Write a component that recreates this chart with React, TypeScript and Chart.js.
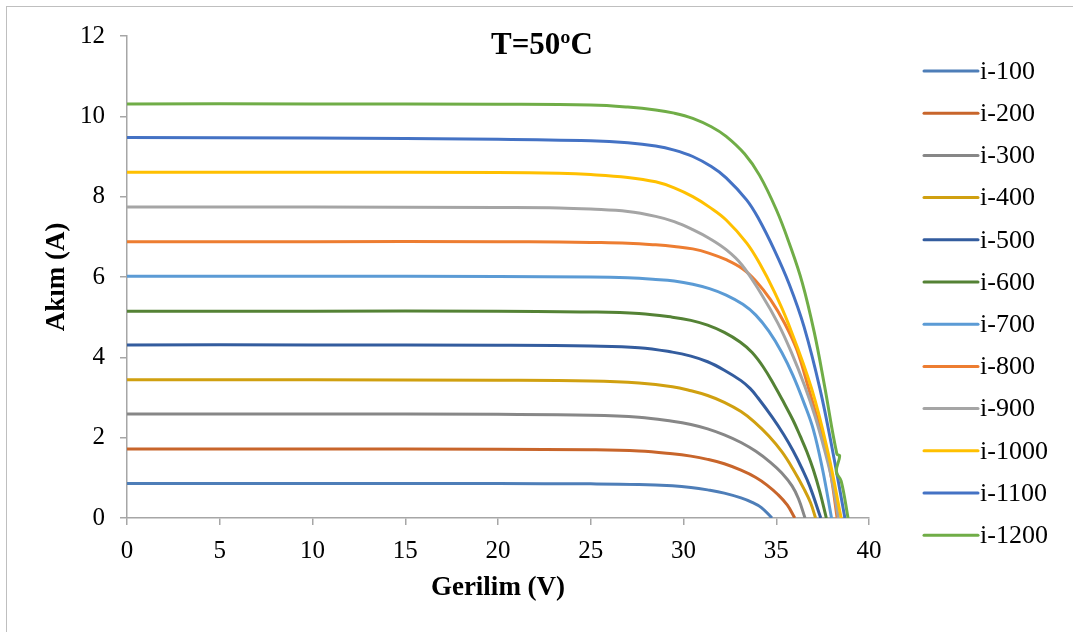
import { useEffect, useRef } from "react";
import { Chart, registerables } from "chart.js";

Chart.register(...registerables);

// ---- data (V, A) ----
const seriesLabels = ["i-100", "i-200", "i-300", "i-400", "i-500", "i-600", "i-700", "i-800", "i-900", "i-1000", "i-1100", "i-1200"];
const seriesColors = ["#4E7EB8", "#C8652B", "#878787", "#D0A010", "#335C9E", "#548235", "#5B9BD5", "#ED7D31", "#A5A5A5", "#FFC000", "#4472C4", "#70AD47"];

const i100: number[][] = [[0, 0.86], [10, 0.86], [20, 0.856], [25, 0.85], [27.6, 0.835], [29.4, 0.8], [30.4, 0.76], [31.3, 0.7], [32.2, 0.62], [33.1, 0.5], [33.7, 0.39], [34.2, 0.26], [34.77, 0]];
const i200: number[][] = [[0, 1.72], [10, 1.72], [20, 1.71], [25, 1.7], [27.6, 1.67], [29.4, 1.6], [30.4, 1.54], [31.3, 1.46], [32.2, 1.35], [33.1, 1.19], [33.9, 1.01], [34.5, 0.82], [35.1, 0.58], [35.6, 0.32], [36.0, 0]];
const i300: number[][] = [[0, 2.59], [10, 2.59], [20, 2.58], [25, 2.56], [27.6, 2.51], [29.4, 2.41], [30.4, 2.33], [31.3, 2.22], [32.2, 2.07], [33.1, 1.88], [33.9, 1.66], [34.7, 1.38], [35.3, 1.12], [35.85, 0.8], [36.2, 0.48], [36.55, 0]];
const i400: number[][] = [[0, 3.44], [10, 3.44], [20, 3.43], [25, 3.41], [27.6, 3.36], [29.4, 3.27], [30.4, 3.17], [31.3, 3.05], [32.2, 2.88], [33.1, 2.65], [33.8, 2.4], [34.6, 2.04], [35.3, 1.65], [35.9, 1.22], [36.5, 0.72], [36.85, 0.38], [37.12, 0]];
const i500: number[][] = [[0, 4.31], [10, 4.31], [20, 4.3], [25, 4.28], [27.6, 4.24], [29.4, 4.13], [30.4, 4.03], [31.3, 3.89], [32.2, 3.68], [33.1, 3.42], [33.6, 3.22], [34.0, 3.0], [34.8, 2.5], [35.4, 2.08], [35.9, 1.68], [36.4, 1.22], [36.8, 0.8], [37.4, 0]];
const i600: number[][] = [[0, 5.15], [10, 5.15], [20, 5.15], [25, 5.13], [27.6, 5.09], [29.4, 5.0], [30.4, 4.92], [31.3, 4.8], [32.2, 4.62], [33.05, 4.38], [33.7, 4.12], [34.3, 3.76], [34.9, 3.3], [35.4, 2.88], [35.9, 2.44], [36.3, 2.03], [36.65, 1.65], [37.0, 1.2], [37.35, 0.65], [37.7, 0]];
const i700: number[][] = [[0, 6.02], [10, 6.02], [20, 6.01], [25, 6.0], [27, 5.98], [28.5, 5.94], [29.5, 5.9], [30.5, 5.82], [31.4, 5.71], [32.3, 5.55], [33.2, 5.32], [33.9, 5.05], [34.6, 4.65], [35.3, 4.12], [35.9, 3.55], [36.5, 2.86], [37.0, 2.2], [37.5, 1.2], [37.98, 0]];
const i800: number[][] = [[0, 6.88], [10, 6.88], [20, 6.88], [23.3, 6.87], [25, 6.86], [27, 6.84], [28.5, 6.8], [29.5, 6.76], [30.5, 6.7], [31.4, 6.59], [32.3, 6.43], [33.2, 6.2], [33.9, 5.9], [34.7, 5.43], [35.45, 4.85], [36.1, 4.2], [36.7, 3.3], [37.2, 2.5], [37.7, 1.66], [38.0, 0.92], [38.28, 0]];
const i900: number[][] = [[0, 7.74], [10, 7.74], [20, 7.73], [23.3, 7.72], [25, 7.69], [27, 7.63], [28.5, 7.51], [29.5, 7.38], [30.5, 7.18], [31.4, 6.96], [32.3, 6.68], [33.15, 6.3], [34.2, 5.57], [35.1, 4.84], [35.8, 4.14], [36.55, 3.27], [37.1, 2.52], [37.6, 1.7], [38.0, 0.95], [38.35, 0]];
const i1000: number[][] = [[0, 8.61], [10, 8.61], [20, 8.6], [23.3, 8.58], [25, 8.55], [27, 8.48], [28.5, 8.37], [29.5, 8.22], [30.5, 8.0], [31.4, 7.74], [32.3, 7.42], [33.4, 6.85], [34.1, 6.34], [34.9, 5.63], [35.65, 4.84], [36.9, 3.23], [37.8, 1.61], [38.5, 0]];
const i1100: number[][] = [[0, 9.47], [10, 9.46], [20, 9.43], [25, 9.39], [27, 9.34], [28.5, 9.26], [29.5, 9.16], [30.5, 9.0], [31.5, 8.75], [32.3, 8.47], [33.4, 7.92], [34.05, 7.45], [34.9, 6.67], [35.7, 5.82], [36.5, 4.76], [37.36, 3.21], [38.06, 1.62], [38.7, 0]];
const i1200: number[][] = [[0, 10.31], [10, 10.31], [20, 10.3], [25, 10.28], [27, 10.23], [28.5, 10.16], [29.5, 10.08], [30.5, 9.95], [31.5, 9.74], [32.3, 9.5], [33.3, 9.06], [34.1, 8.53], [35.0, 7.68], [35.7, 6.84], [36.4, 5.86], [37.05, 4.62], [37.6, 3.3], [38.27, 1.59], [38.42, 1.55], [38.24, 1.15], [38.5, 0.92], [38.87, 0]];

const allSeries = [i100, i200, i300, i400, i500, i600, i700, i800, i900, i1000, i1100, i1200];

const chartTitle = "T=50ºC";
const xTitle = "Gerilim (V)";
const yTitle = "Akım (A)";

const FONT = "'Liberation Serif', 'Times New Roman', serif";
const AXIS_GRAY = "#A6A6A6";

export default function App() {
  const ref = useRef<HTMLCanvasElement>(null);

  useEffect(() => {
    const canvas = ref.current!;

    const framePlugin = {
      id: "frame",
      beforeDraw(chart: any) {
        const c = chart.ctx;
        c.save();
        c.fillStyle = "#ffffff";
        c.fillRect(0, 0, chart.width, chart.height);
        c.strokeStyle = "#BFBFBF";
        c.lineWidth = 1;
        c.strokeRect(6.5, 6.5, chart.width + 20, chart.height + 20);
        c.restore();
      },
    };

    const overlayPlugin = {
      id: "overlay",
      afterDraw(chart: any) {
        const c = chart.ctx;
        c.save();
        // title
        c.fillStyle = "#000";
        c.font = `bold 31px ${FONT}`;
        c.textAlign = "center";
        c.textBaseline = "middle";
        c.fillText(chartTitle, 542, 46);
        // legend
        const x0 = 924;
        const x1 = 978;
        const yStart = 71;
        const step = 42.2;
        c.font = `26px ${FONT}`;
        c.textAlign = "left";
        chart.data.datasets.forEach((ds: any, i: number) => {
          const y = yStart + i * step;
          c.strokeStyle = ds.borderColor;
          c.lineWidth = 3;
          c.lineCap = "round";
          c.beginPath();
          c.moveTo(x0, y);
          c.lineTo(x1, y);
          c.stroke();
          c.fillStyle = "#000";
          c.fillText(ds.label, 980, y + 1);
        });
        c.restore();
      },
    };

    const chart = new Chart(canvas, {
      type: "line",
      data: {
        datasets: allSeries.map((pts, i) => ({
          label: seriesLabels[i],
          data: pts.map(([x, y]) => ({ x, y })),
          borderColor: seriesColors[i],
          backgroundColor: seriesColors[i],
          borderWidth: 3,
          borderJoinStyle: "round",
          pointRadius: 0,
          pointHoverRadius: 0,
          fill: false,
          tension: 0.4,
          order: -i,
        })),
      },
      options: {
        responsive: false,
        animation: false,
        devicePixelRatio: 1,
        layout: { padding: { left: 0, top: 36, right: 204, bottom: 0 } },
        plugins: {
          legend: { display: false },
          tooltip: { enabled: false },
          title: { display: false },
        },
        scales: {
          x: {
            type: "linear",
            min: 0,
            max: 40,
            ticks: { stepSize: 5, color: "#000", font: { family: FONT, size: 25 }, padding: 11 },
            grid: { drawOnChartArea: false, drawTicks: true, tickLength: 7, color: AXIS_GRAY, lineWidth: 1.5 },
            border: { display: true, color: AXIS_GRAY, width: 1.5 },
            title: {
              display: true,
              text: xTitle,
              color: "#000",
              font: { family: FONT, size: 27, weight: "bold" },
              padding: { top: 0, bottom: 28 },
            },
            afterFit: (s: any) => {
              s.height = 114;
            },
          },
          y: {
            type: "linear",
            min: 0,
            max: 12,
            ticks: { stepSize: 2, color: "#000", font: { family: FONT, size: 25 }, padding: 15 },
            grid: { drawOnChartArea: false, drawTicks: true, tickLength: 7, color: AXIS_GRAY, lineWidth: 1.5 },
            border: { display: true, color: AXIS_GRAY, width: 1.5 },
            title: {
              display: true,
              text: yTitle,
              color: "#000",
              font: { family: FONT, size: 27, weight: "bold" },
              padding: { top: 41, bottom: 0 },
            },
            afterFit: (s: any) => {
              s.width = 127;
            },
          },
        },
      },
      plugins: [framePlugin, overlayPlugin],
    } as any);

    return () => chart.destroy();
  }, []);

  return (
    <div style={{ position: "fixed", left: 0, top: 0, width: 1073, height: 632, background: "#fff" }}>
      <canvas ref={ref} width={1073} height={632} style={{ display: "block" }} />
    </div>
  );
}
